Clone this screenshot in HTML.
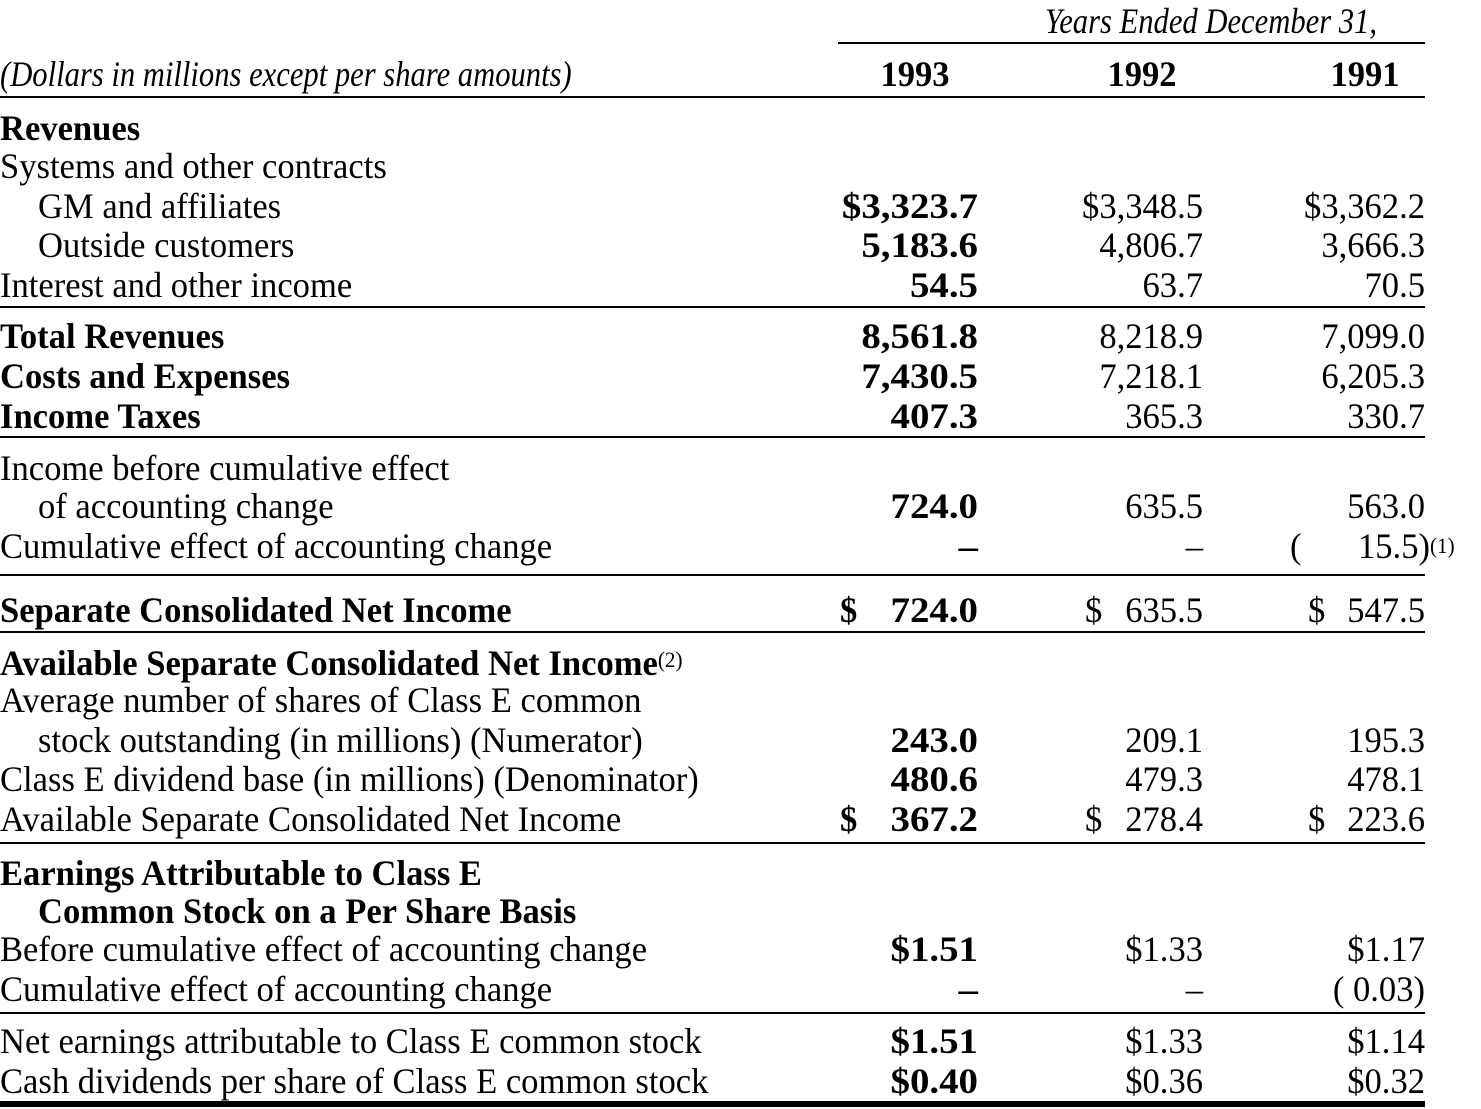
<!DOCTYPE html>
<html><head><meta charset="utf-8">
<style>
body{margin:0;background:#fff;}
#page{position:relative;width:1481px;height:1109px;overflow:hidden;background:#fff;font-family:"Liberation Serif",serif;color:#000;}
.t{position:absolute;font-size:36px;line-height:36px;white-space:pre;transform:scaleX(0.96);}
.l{transform-origin:left top;}
.r{transform-origin:right top;text-align:right;}
.c{transform-origin:center top;text-align:center;}
.b{font-weight:bold;}
.r.b{transform:scaleX(1.08);}
.i{font-style:italic;transform:scaleX(0.85);}
.hl{position:absolute;background:#000;height:2px;}
sup{font-size:22px;vertical-align:8px;font-weight:normal;}
</style></head><body>
<div id="page"></div>
<script>
const labels=[
["Revenues",140,0,1],["Systems and other contracts",178,0,0],["GM and affiliates",218,38,0],["Outside customers",257,38,0],
["Interest and other income",297,0,0],["Total Revenues",348,0,1],["Costs and Expenses",388,0,1],["Income Taxes",428,0,1],
["Income before cumulative effect",480,0,0],["of accounting change",518,38,0],["Cumulative effect of accounting change",558,0,0],
["Separate Consolidated Net Income",622,0,1],["Available Separate Consolidated Net Income<sup>(2)</sup>",672,0,1],
["Average number of shares of Class E common",712,0,0],["stock outstanding (in millions) (Numerator)",752,38,0],
["Class E dividend base (in millions) (Denominator)",791,0,0],["Available Separate Consolidated Net Income",831,0,0],
["Earnings Attributable to Class E",885,0,1],["Common Stock on a Per Share Basis",923,38,1],
["Before cumulative effect of accounting change",961,0,0],["Cumulative effect of accounting change",1001,0,0],
["Net earnings attributable to Class E common stock",1053,0,0],["Cash dividends per share of Class E common stock",1093,0,0]];
const v1993=["","","$3,323.7","5,183.6","54.5","8,561.8","7,430.5","407.3","","724.0","–","724.0","","","243.0","480.6","367.2","","","$1.51","–","$1.51","$0.40"];
const v1992=["","","$3,348.5","4,806.7","63.7","8,218.9","7,218.1","365.3","","635.5","–","635.5","","","209.1","479.3","278.4","","","$1.33","–","$1.33","$0.36"];
const v1991=["","","$3,362.2","3,666.3","70.5","7,099.0","6,205.3","330.7","","563.0","","547.5","","","195.3","478.1","223.6","","","$1.17","( 0.03)","$1.14","$0.32"];
const dollarRows=[11,16];
const page=document.getElementById('page');
function mk(cls,html,x,y,anchor){const d=document.createElement('div');d.className='t '+cls;d.innerHTML=html;d.style.top=(y-30)+'px';
if(anchor==='r'){d.style.right=(1481-x)+'px';}else if(anchor==='c'){d.style.left=(x-100)+'px';d.style.width='200px';}else{d.style.left=x+'px';}
page.appendChild(d);return d;}
function line(x1,x2,y,h){const d=document.createElement('div');d.className='hl';d.style.left=x1+'px';d.style.width=(x2-x1)+'px';d.style.top=y+'px';d.style.height=(h||2)+'px';page.appendChild(d);

}
let e=mk('c i',"Years Ended December 31,",1130,33,'c');


e=mk('l i',"(Dollars in millions except per share amounts)",0,86,'l');


const years=[["1993",915],["1992",1142],["1991",1365]];
years.forEach(y=>{const d=mk('c b',y[0],y[1],86,'c');

});
labels.forEach((r,i)=>{const d=mk('l'+(r[3]?' b':''),r[0],r[2],r[1],'l');


const cols=[[v1993,978,840,' b'],[v1992,1203,1085,''],[v1991,1425,1308,'']];
cols.forEach((c,k)=>{const v=c[0][i];if(v){const n=mk('r'+c[3],v,c[1],r[1],'r');

}
if(dollarRows.includes(i)){const s=mk('l'+c[3],'$',c[2],r[1],'l');

}});});
e=mk('l',"(",1290,558,'l');


e=mk('r',"15.5)",1430,558,'r');


e=mk('l',"<sup>(1)</sup>",1430,558,'l');


line(838,1425,42);line(0,1425,96);line(0,1425,306);line(0,1425,436);line(0,1425,574);line(0,1425,631);
line(0,1425,842);line(0,1425,1012);line(0,1425,1101,6);
</script>
</body></html>
